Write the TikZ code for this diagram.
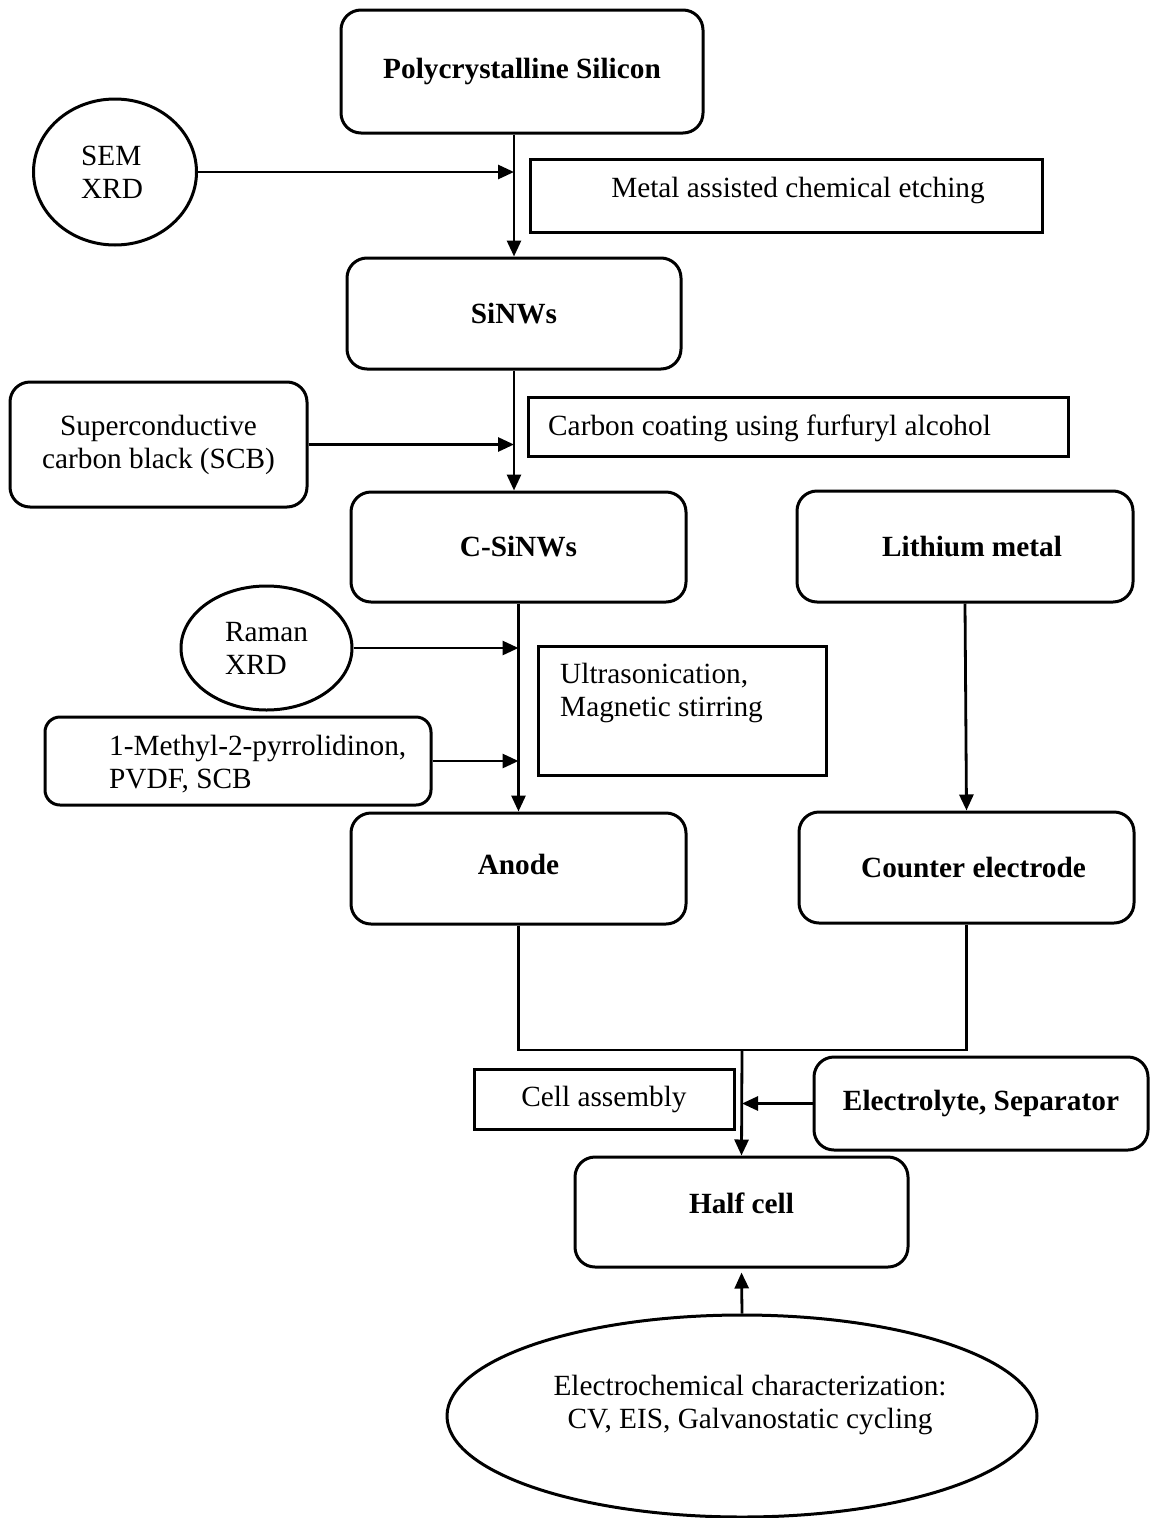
\documentclass[tikz,border=0pt]{standalone}
\usepackage{fontspec}
\setmainfont{Liberation Serif}
\usetikzlibrary{arrows.meta,shapes.geometric}
\tikzset{
  every node/.style={font=\fontsize{29.3}{33}\selectfont, inner sep=0pt},
  rbox/.style={draw, line width=3pt, rounded corners=20pt, font=\fontsize{29.3}{33}\selectfont\bfseries, align=center},
  pbox/.style={draw, line width=3pt},
  oval/.style={draw, ellipse, line width=3pt, align=left},
  txt/.style={align=left},
  arr/.style={line width=2.8pt, -{Triangle[length=16pt,width=14pt]}},
  conn/.style={line width=2.8pt}
}
\begin{document}
\begin{tikzpicture}[x=1pt,y=-1pt]
\useasboundingbox (0,0) rectangle (1150,1518);
% main boxes
\node[rbox, minimum width=362pt, minimum height=123pt] (poly) at (522,71.5) {Polycrystalline Silicon};
\node[rbox, minimum width=334pt, minimum height=111pt] (sinws) at (514,313.5) {SiNWs};
\node[rbox, minimum width=335pt, minimum height=110pt] (csinws) at (518.5,547) {C-SiNWs};
\node[rbox, minimum width=335pt, minimum height=111pt] (anode) at (518.5,868.5) {\raisebox{4pt}[\height][\depth]{Anode}};
\node[rbox, minimum width=336pt, minimum height=111pt] (lithium) at (965,546.5) {\hspace*{14pt}Lithium metal};
\node[rbox, minimum width=335pt, minimum height=111pt] (counter) at (966.5,867.5) {\hspace*{14pt}Counter electrode};
\node[rbox, minimum width=333pt, minimum height=110pt] (half) at (741.5,1212) {\raisebox{9pt}[\height][\depth]{Half cell}};
\node[rbox, minimum width=334pt, minimum height=93pt] (elec) at (981,1103.5) {Electrolyte, Separator};
\node[rbox, font=\fontsize{29.3}{33}\selectfont, minimum width=297pt, minimum height=125pt] (scb) at (158.5,444.5) {Superconductive\\carbon black (SCB)};
\node[rbox, rounded corners=15pt, minimum width=386pt, minimum height=88pt] (methyl) at (238,761) {};
\node[txt, anchor=west] (methyltxt) at (109,764) {1-Methyl-2-pyrrolidinon,\\PVDF, SCB};
% ellipses
\node[oval, minimum width=163pt, minimum height=146pt] (sem) at (115,172) {\hspace*{-6pt}SEM\\\hspace*{-6pt}XRD};
\node[oval, minimum width=171pt, minimum height=124pt] (raman) at (266.5,648) {Raman\\XRD};
\node[oval, minimum width=590pt, minimum height=202pt] (ech) at (742,1416) {};
\node[align=center] (echtxt) at (750,1405) {Electrochemical characterization:\\CV, EIS, Galvanostatic cycling};
% process boxes
\node[pbox, minimum width=512pt, minimum height=73pt] (metal) at (786,195.5) {};
\node (metaltxt) at (798,190) {Metal assisted chemical etching};
\node[pbox, minimum width=540pt, minimum height=59pt] (carbon) at (798,426.5) {};
\node[anchor=west] (carbontxt) at (548,428) {Carbon coating using furfuryl alcohol};
\node[pbox, minimum width=288pt, minimum height=129pt] (ultra) at (682,710.5) {};
\node[txt, anchor=west] (ultratxt) at (560,693) {Ultrasonication,\\Magnetic stirring};
\node[pbox, minimum width=260pt, minimum height=60pt] (cell) at (604,1099) {Cell assembly};
% connectors
\draw[arr] (sinws.north |- poly.south) -- (sinws.north);
\draw[arr] (sem.east) -- (sem.east -| sinws.north);
\draw[arr] (sinws.south) -- (sinws.south |- csinws.north);
\draw[arr] (scb.east) -- (scb.east -| sinws.south);
\draw[arr] (csinws.south) -- (anode.north);
\draw[arr] (raman.east) -- (raman.east -| anode.north);
\draw[arr] (methyl.east) -- (methyl.east -| anode.north);
\draw[arr] (lithium.south) -- (counter.north);
\coordinate (join) at (742,1050);
\draw[conn] (anode.south) |- (join) -| (counter.south);
\draw[arr] (join) -- (half.north);
\draw[arr] (elec.west) -- (elec.west -| join);
\draw[arr, shorten >=4pt] (ech.north) -- (half.south);
\end{tikzpicture}
\end{document}
